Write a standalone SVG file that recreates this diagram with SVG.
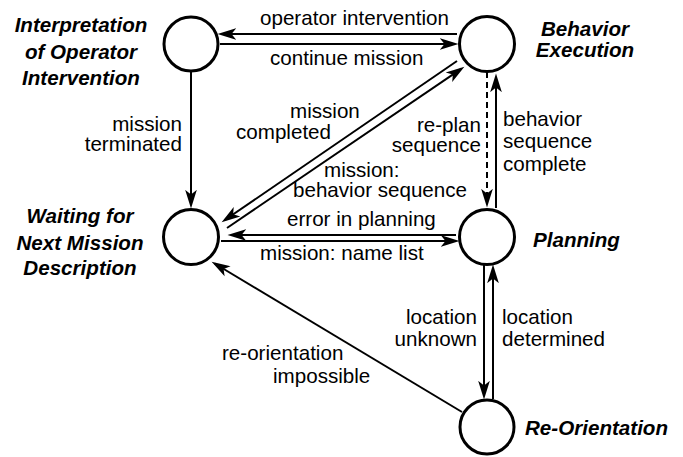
<svg xmlns="http://www.w3.org/2000/svg" width="683" height="457" viewBox="0 0 683 457">
<defs>
<marker id="ah" markerUnits="userSpaceOnUse" markerWidth="20" markerHeight="14" viewBox="0 0 17 12" refX="13" refY="6" orient="auto">
<path d="M0,1 L16,6 L0,11 L4,6 z" fill="#000"/>
</marker>
<style>
.st{fill:#fff;stroke:#000;stroke-width:3}
.c{fill:none;stroke:#000;stroke-width:2;marker-end:url(#ah)}
.d{stroke-dasharray:6,4}
.t{font-family:"Liberation Sans",Arial,sans-serif;font-size:20.6px;fill:#000}
.n{font-family:"Liberation Sans",Arial,sans-serif;font-size:20.6px;font-weight:bold;font-style:italic;fill:#000}
.m{text-anchor:middle}
.e{text-anchor:end}
</style>
</defs>
<rect width="683" height="457" fill="#fff"/>
<g id="connectors">
<line class="c" x1="457" y1="34" x2="221" y2="34"/>
<line class="c" x1="220" y1="44" x2="455" y2="44"/>
<line class="c" x1="191" y1="72" x2="191" y2="205"/>
<line class="c" x1="457" y1="61" x2="224.5" y2="220.3"/>
<line class="c" x1="227" y1="228" x2="461.5" y2="68.7"/>
<line class="c d" x1="487" y1="72" x2="487" y2="204"/>
<line class="c" x1="496" y1="208" x2="496" y2="77"/>
<line class="c" x1="456" y1="235" x2="231" y2="235"/>
<line class="c" x1="221" y1="241" x2="456" y2="241"/>
<line class="c" x1="484" y1="265" x2="484" y2="396"/>
<line class="c" x1="493" y1="399" x2="493" y2="268"/>
<line class="c" x1="462" y1="412" x2="214.6" y2="263.5"/>
</g>
<g id="interpretation">
<circle class="st" cx="191" cy="44" r="27"/>
<text class="n m" x="81" y="32">Interpretation</text>
<text class="n m" x="81" y="59">of Operator</text>
<text class="n m" x="81" y="85">Intervention</text>
</g>
<g id="behavior">
<circle class="st" cx="487" cy="44" r="27.5"/>
<text class="n m" x="585" y="36">Behavior</text>
<text class="n m" x="585" y="57">Execution</text>
</g>
<g id="waiting">
<circle class="st" cx="191" cy="237" r="27.5"/>
<text class="n m" x="80" y="223">Waiting for</text>
<text class="n m" x="80" y="250">Next Mission</text>
<text class="n m" x="80" y="275">Description</text>
</g>
<g id="planning">
<circle class="st" cx="487" cy="237" r="27.5"/>
<text class="n" x="533" y="247">Planning</text>
</g>
<g id="reorientation">
<circle class="st" cx="487" cy="427" r="27"/>
<text class="n" x="525" y="435">Re-Orientation</text>
</g>
<g id="labels">
<text class="t" x="260" y="25">operator intervention</text>
<text class="t" x="270" y="65">continue mission</text>
<text class="t e" x="182" y="131">mission</text>
<text class="t e" x="182" y="151">terminated</text>
<text class="t" x="290" y="118">mission</text>
<text class="t" x="236" y="139">completed</text>
<text class="t e" x="481" y="132">re-plan</text>
<text class="t e" x="481" y="152">sequence</text>
<text class="t" x="503" y="126">behavior</text>
<text class="t" x="503" y="148">sequence</text>
<text class="t" x="503" y="171">complete</text>
<text class="t" x="324" y="177">mission:</text>
<text class="t" x="293" y="197">behavior sequence</text>
<text class="t" x="287" y="226">error in planning</text>
<text class="t" x="260" y="260">mission: name list</text>
<text class="t e" x="477" y="324">location</text>
<text class="t e" x="477" y="346">unknown</text>
<text class="t" x="502" y="324">location</text>
<text class="t" x="502" y="346">determined</text>
<text class="t" x="222" y="360">re-orientation</text>
<text class="t" x="273" y="383">impossible</text>
</g>
</svg>
